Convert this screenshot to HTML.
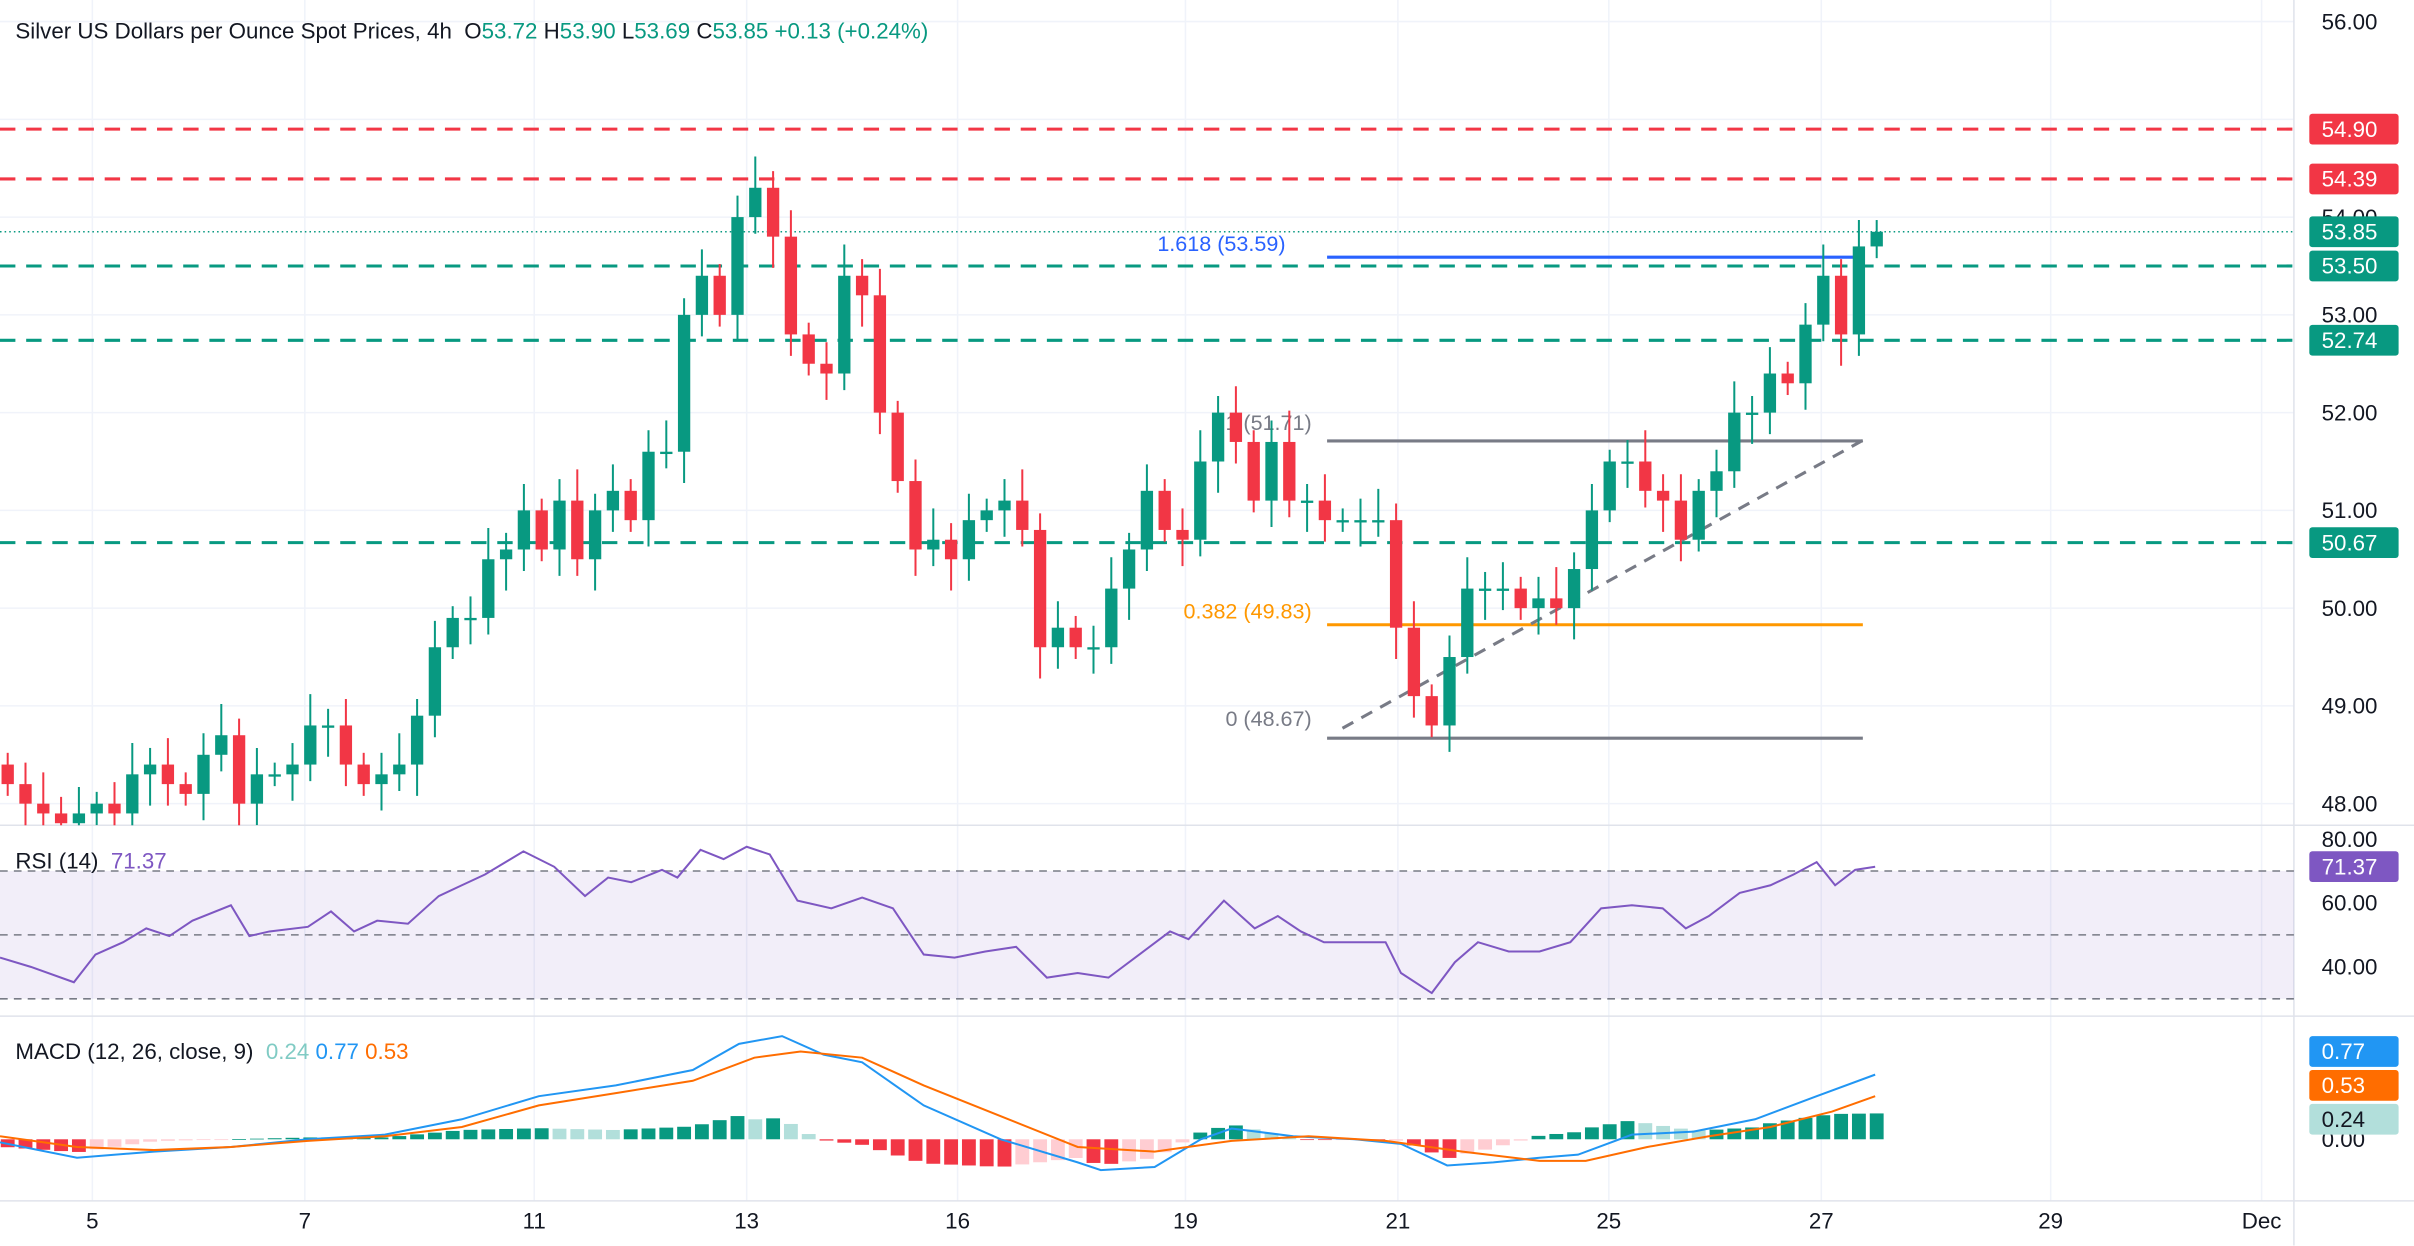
<!DOCTYPE html>
<html><head><meta charset="utf-8"><style>
html,body{margin:0;padding:0;background:#fff;}
svg{display:block;font-family:"Liberation Sans",sans-serif;}
</style></head><body>
<svg id="c" width="2414" height="1246" viewBox="0 0 1568 809.3" xmlns="http://www.w3.org/2000/svg"></svg>
<script>
var s='<defs><clipPath id="mp"><rect x="0" y="0" width="1490" height="536"/></clipPath></defs>';
function py(p){return 14+(56-p)*63.5;}
function ry(v){return 545+(80-v)*2.075;}
for(var p=48;p<=56;p++){s+='<line x1="0" x2="1490" y1="'+py(p)+'" y2="'+py(p)+'" stroke="#f0f3fa"/>';}
var xs=[60,198,347,485,622,770,908,1045,1183,1332,1469],xl=['5','7','11','13','16','19','21','25','27','29','Dec'];
xs.forEach(function(x){s+='<line x1="'+x+'" x2="'+x+'" y1="0" y2="780" stroke="#f0f3fa"/>';});
s+='<line x1="0" x2="1568" y1="536" y2="536" stroke="#e0e3eb"/><line x1="0" x2="1568" y1="660" y2="660" stroke="#e0e3eb"/><line x1="0" x2="1568" y1="780" y2="780" stroke="#e0e3eb"/><line x1="1490" x2="1490" y1="0" y2="809" stroke="#e0e3eb"/>';
[[54.90,'#f23645'],[54.39,'#f23645'],[53.50,'#089981'],[52.74,'#089981'],[50.67,'#089981']].forEach(function(l){s+='<line x1="0" x2="1490" y1="'+py(l[0])+'" y2="'+py(l[0])+'" stroke="'+l[1]+'" stroke-width="2" stroke-dasharray="10,7"/>';});
s+='<line x1="0" x2="1490" y1="'+py(53.85)+'" y2="'+py(53.85)+'" stroke="#089981" stroke-dasharray="1,2"/>';
s+='<line x1="862" x2="1210" y1="'+py(53.59)+'" y2="'+py(53.59)+'" stroke="#2962ff" stroke-width="2"/>';
s+='<line x1="862" x2="1210" y1="'+py(51.71)+'" y2="'+py(51.71)+'" stroke="#787b86" stroke-width="2"/>';
s+='<line x1="862" x2="1210" y1="'+py(49.83)+'" y2="'+py(49.83)+'" stroke="#ff9800" stroke-width="2"/>';
s+='<line x1="862" x2="1210" y1="'+py(48.67)+'" y2="'+py(48.67)+'" stroke="#787b86" stroke-width="2"/>';
s+='<line x1="872" x2="1210" y1="473" y2="286" stroke="#787b86" stroke-width="2" stroke-dasharray="8,6"/>';
s+='<text x="835" y="'+(py(53.59)-4)+'" text-anchor="end" font-size="14" fill="#2962ff">1.618 (53.59)</text>';
s+='<text x="852" y="'+(py(51.71)-7)+'" text-anchor="end" font-size="14" fill="#787b86">1 (51.71)</text>';
s+='<text x="852" y="'+(py(49.83)-4)+'" text-anchor="end" font-size="14" fill="#ff9800">0.382 (49.83)</text>';
s+='<text x="852" y="'+(py(48.67)-8)+'" text-anchor="end" font-size="14" fill="#787b86">0 (48.67)</text>';
var cl=[48.2,48.0,47.9,47.8,47.9,48.0,47.9,48.3,48.4,48.2,48.1,48.5,48.7,48.0,48.3,48.3,48.4,48.8,48.8,48.4,48.2,48.3,48.4,48.9,49.6,49.9,49.9,50.5,50.6,51.0,50.6,51.1,50.5,51.0,51.2,50.9,51.6,51.6,53.0,53.4,53.0,54.0,54.3,53.8,52.8,52.5,52.4,53.4,53.2,52.0,51.3,50.6,50.7,50.5,50.9,51.0,51.1,50.8,49.6,49.8,49.6,49.6,50.2,50.6,51.2,50.8,50.7,51.5,52.0,51.7,51.1,51.7,51.1,51.1,50.9,50.9,50.9,50.9,49.8,49.1,48.8,49.5,50.2,50.2,50.2,50.0,50.1,50.0,50.4,51.0,51.5,51.5,51.2,51.1,50.7,51.2,51.4,52.0,52.0,52.4,52.3,52.9,53.4,52.8,53.7,53.85];
var n=cl.length,dx=(1219-5)/(n-1);
s+='<g clip-path="url(#mp)">';
for(var i=0;i<n;i++){var o=i?cl[i-1]:48.4,c=cl[i],x=5+i*dx,up=c>=o,col=up?'#089981':'#f23645';
var h=Math.max(o,c)+0.12+((i*7)%5)*0.05,lo=Math.min(o,c)-0.12-((i*3)%5)*0.05;
s+='<line x1="'+x+'" x2="'+x+'" y1="'+py(h)+'" y2="'+py(lo)+'" stroke="'+col+'" stroke-width="1.3"/>';
var t=py(Math.max(o,c)),b=py(Math.min(o,c));if(b-t<1.5)b=t+1.5;
s+='<rect x="'+(x-4)+'" y="'+t+'" width="8" height="'+(b-t)+'" fill="'+col+'"/>';}
s+='</g>';
s+='<rect x="0" y="'+ry(70)+'" width="1490" height="'+(ry(30)-ry(70))+'" fill="#7e57c2" fill-opacity="0.1"/>';
[70,50,30].forEach(function(v){s+='<line x1="0" x2="1490" y1="'+ry(v)+'" y2="'+ry(v)+'" stroke="#787b86" stroke-dasharray="5,4"/>';});
var rp=[[0,622],[20,628],[48,638],[62,620],[80,612],[95,603],[110,608],[125,598],[150,588],[162,608],[175,605],[200,602],[215,592],[230,605],[245,598],[265,600],[285,582],[300,575],[315,568],[340,553],[360,563],[380,582],[395,570],[410,573],[430,565],[440,570],[455,552],[470,558],[485,550],[500,555],[518,585],[540,590],[560,583],[580,590],[600,620],[620,622],[640,618],[660,615],[680,635],[700,632],[720,635],[740,620],[760,605],[772,610],[795,585],[815,603],[830,595],[845,605],[860,612],[880,612],[900,612],[910,632],[930,645],[945,625],[960,612],[980,618],[1000,618],[1020,612],[1040,590],[1060,588],[1080,590],[1095,603],[1110,595],[1130,580],[1150,575],[1165,568],[1180,560],[1192,575],[1205,565],[1218,563]];
s+='<polyline fill="none" stroke="#7e57c2" stroke-width="1.3" points="'+rp.join(' ')+'"/>';
var mp=[[0,742],[50,752],[100,748],[150,745],[200,740],[250,737],[300,727],[350,712],[400,705],[450,695],[480,678],[508,673],[535,685],[560,690],[600,718],[650,740],[700,755],[715,760],[750,758],[780,740],[800,733],[840,738],[880,740],[910,743],[940,757],[970,755],[1000,752],[1025,750],[1060,737],[1100,735],[1140,727],[1180,712],[1218,698]];
var sp=[[0,738],[50,745],[100,747],[150,745],[200,741],[250,738],[300,732],[350,718],[400,710],[450,702],[490,687],[520,683],[560,687],[600,705],[650,725],[700,745],[750,748],[800,741],[850,738],[900,741],[950,748],[1000,754],[1030,754],[1070,745],[1110,738],[1150,732],[1190,722],[1218,712]];
function interp(a,x){for(var k=1;k<a.length;k++){if(x<=a[k][0]){var f=(x-a[k-1][0])/(a[k][0]-a[k-1][0]);return a[k-1][1]+f*(a[k][1]-a[k-1][1]);}}return a[a.length-1][1];}
var prev=0;
for(var i=0;i<n;i++){var x=5+i*dx,hv=(interp(sp,x)-interp(mp,x))*1.2,col;
if(hv>=0)col=hv>=prev?'#089981':'#b2dfdb';else col=hv<prev?'#f23645':'#ffcdd2';prev=hv;
var y0=740,y1=740-hv;s+='<rect x="'+(x-4.5)+'" y="'+Math.min(y0,y1)+'" width="9" height="'+Math.max(Math.abs(hv),0.5)+'" fill="'+col+'"/>';}
s+='<polyline fill="none" stroke="#2196f3" stroke-width="1.3" points="'+mp.join(' ')+'"/>';
s+='<polyline fill="none" stroke="#ff6d00" stroke-width="1.3" points="'+sp.join(' ')+'"/>';
var fs='font-size="14.5" fill="#131722"';
[56,54,53,52,51,50,49,48].forEach(function(p){s+='<text x="1508" y="'+(py(p)+5)+'" '+fs+'>'+p.toFixed(2)+'</text>';});
[80,60,40].forEach(function(v){s+='<text x="1508" y="'+(ry(v)+5)+'" '+fs+'>'+v.toFixed(2)+'</text>';});
s+='<text x="1508" y="745" '+fs+'>0.00</text>';
function box(y,t,bg,fg){s+='<rect x="1500" y="'+(y-10)+'" width="58" height="20" rx="2" fill="'+bg+'"/><text x="1508" y="'+(y+5)+'" font-size="14.5" fill="'+(fg||'#fff')+'">'+t+'</text>';}
box(py(54.90),'54.90','#f23645');box(py(54.39),'54.39','#f23645');box(py(53.85),'53.85','#089981');box(py(53.50),'53.50','#089981');box(py(52.74),'52.74','#089981');box(py(50.67),'50.67','#089981');
box(ry(71.37),'71.37','#7e57c2');box(683,'0.77','#2196f3');box(705,'0.53','#ff6d00');box(727,'0.24','#b2dfdb','#131722');
xs.forEach(function(x,i){s+='<text x="'+x+'" y="798" text-anchor="middle" '+fs+'>'+xl[i]+'</text>';});
s+='<text x="10" y="25" font-size="14.5" fill="#131722">Silver US Dollars per Ounce Spot Prices, 4h <tspan dx="4">O</tspan><tspan fill="#089981">53.72</tspan> <tspan>H</tspan><tspan fill="#089981">53.90</tspan> <tspan>L</tspan><tspan fill="#089981">53.69</tspan> <tspan>C</tspan><tspan fill="#089981">53.85 +0.13 (+0.24%)</tspan></text>';
s+='<text x="10" y="564" font-size="14.5" fill="#131722">RSI (14) <tspan fill="#7e57c2" dx="4">71.37</tspan></text>';
s+='<text x="10" y="688" font-size="14.5" fill="#131722">MACD (12, 26, close, 9) <tspan fill="#80cbc4" dx="4">0.24</tspan> <tspan fill="#2196f3">0.77</tspan> <tspan fill="#ff6d00">0.53</tspan></text>';
document.getElementById('c').innerHTML=s;
</script>
</body></html>
